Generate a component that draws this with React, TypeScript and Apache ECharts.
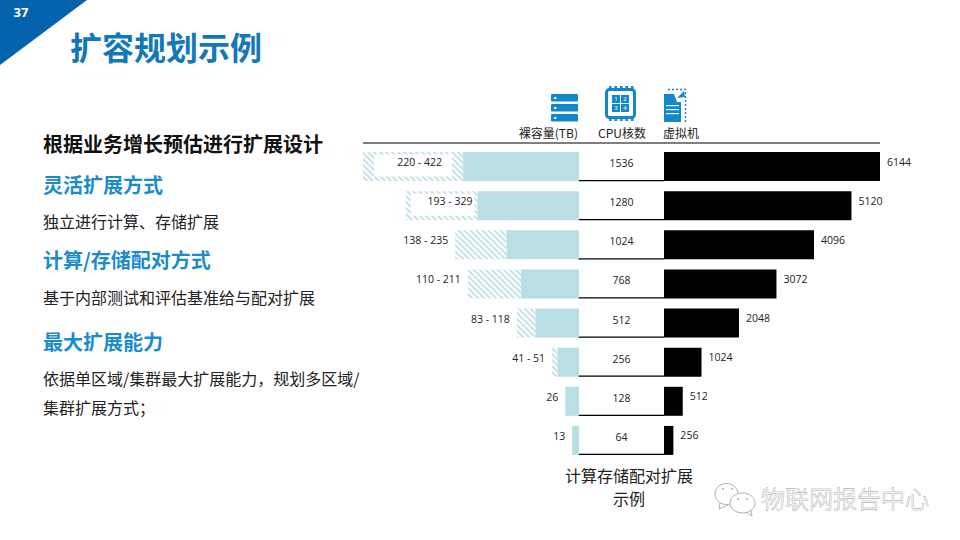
import React, { useEffect, useRef } from "react";
import * as echarts from "echarts";

const cpuCores = [1536, 1280, 1024, 768, 512, 256, 128, 64];
const storageLow = [220, 193, 138, 110, 83, 41, 26, 13];
const storageHigh = [422, 329, 235, 211, 118, 51, 26, 13];
const vmCounts = [6144, 5120, 4096, 3072, 2048, 1024, 512, 256];
const columnHeads = ["裸容量(TB)", "CPU核数", "虚拟机"];
const pageNumber = "37";
const pageTitle = "扩容规划示例";
const caption = "计算存储配对扩展\n示例";
const watermark = "物联网报告中心";
const leftTexts = [
  { t: "根据业务增长预估进行扩展设计", y: 143, kind: "head" },
  { t: "灵活扩展方式", y: 184, kind: "sub" },
  { t: "独立进行计算、存储扩展", y: 221, kind: "body" },
  { t: "计算/存储配对方式", y: 259, kind: "sub" },
  { t: "基于内部测试和评估基准给与配对扩展", y: 297, kind: "body" },
  { t: "最大扩展能力", y: 341, kind: "sub" },
  { t: "依据单区域/集群最大扩展能力，规划多区域/", y: 378, kind: "body" },
  { t: "集群扩展方式；", y: 407, kind: "body" },
];

const CJK = '"Noto Sans CJK SC"';
const NUM = '"Open Sans", "Noto Sans"';
const BLUE = "#1288C8";
const TEAL = "#B9DEE3";
const GRID_TOP = 147;
const GRID_H = 313;

function hatch(): HTMLCanvasElement {
  const c = document.createElement("canvas");
  c.width = 6;
  c.height = 6;
  const g = c.getContext("2d")!;
  g.fillStyle = "#fff";
  g.fillRect(0, 0, 6, 6);
  g.strokeStyle = "#C6E3E7";
  g.lineWidth = 2;
  for (const o of [-6, 0, 6]) {
    g.beginPath();
    g.moveTo(o - 1, -1);
    g.lineTo(o + 7, 7);
    g.stroke();
  }
  return c;
}

function txt(text: string, x: number, y: number, font: string, fill: string, align = "left") {
  return { type: "text", x, y, silent: true, style: { text, x: 0, y: 0, font, fill, align, verticalAlign: "middle" } };
}
function box(x: number, y: number, width: number, height: number, fill = BLUE, r = 0) {
  return { type: "rect", silent: true, shape: { x, y, width, height, r }, style: { fill } };
}

function icons() {
  const out: any[] = [];
  // storage
  for (const y of [94, 104, 114]) {
    out.push(box(551, y, 27, 7.5, BLUE, 1));
    out.push(box(554, y + 3, 2.5, 2, "#fff"));
  }
  // cpu
  out.push({ type: "rect", silent: true, shape: { x: 606.5, y: 89.5, width: 28, height: 28, r: 3 }, style: { fill: "#fff", stroke: BLUE, lineWidth: 3 } });
  for (let i = 0; i < 5; i++) {
    const p = 609 + i * 5.5;
    out.push(box(p, 86, 2.5, 3));
    out.push(box(p, 118, 2.5, 3));
    out.push(box(603, p - 0, 3, 2.5));
    out.push(box(635, p - 0, 3, 2.5));
  }
  ["1", "2", "3", "4"].forEach((d, i) => {
    const x = 612 + (i % 2) * 9;
    const y = 95 + Math.floor(i / 2) * 9;
    out.push(box(x, y, 8, 8));
    out.push(txt(d, x + 4, y + 4, `6px ${NUM}`, "#fff", "center"));
  });
  // virtual machine document
  out.push(box(664, 94, 17, 28));
  out.push({ type: "polygon", silent: true, shape: { points: [[674, 94], [682, 94], [682, 102], [677, 102]] }, style: { fill: "#fff" } });
  out.push({ type: "polygon", silent: true, shape: { points: [[677, 98], [684, 91], [685, 97]] }, style: { fill: BLUE } });
  for (const y of [105, 109, 113]) out.push(box(666, y, 13, 1.2, "#fff"));
  out.push({ type: "polyline", silent: true, shape: { points: [[668, 89.5], [685.5, 89.5], [685.5, 122]] }, style: { fill: "none", stroke: BLUE, lineWidth: 1.4, lineDash: [2, 2] } });
  return out;
}

function wechat() {
  const stroke = "#A8A8A8";
  const s = { fill: "#fff", stroke, lineWidth: 0.9 };
  return [
    { type: "ellipse", silent: true, shape: { cx: 726.5, cy: 494, rx: 11.5, ry: 10.5 }, style: s },
    { type: "polyline", silent: true, shape: { points: [[720, 503], [719, 509], [728, 505]] }, style: { fill: "none", stroke, lineWidth: 0.9 } },
    { type: "ellipse", silent: true, shape: { cx: 742.5, cy: 503, rx: 12.5, ry: 10 }, style: s },
    { type: "polyline", silent: true, shape: { points: [[747, 512.5], [752, 516], [751, 510]] }, style: { fill: "none", stroke, lineWidth: 0.9 } },
    { type: "circle", silent: true, shape: { cx: 723, cy: 489, r: 0.9 }, style: { fill: stroke } },
    { type: "circle", silent: true, shape: { cx: 732, cy: 489, r: 0.9 }, style: { fill: stroke } },
    { type: "circle", silent: true, shape: { cx: 738, cy: 499, r: 0.9 }, style: { fill: stroke } },
    { type: "circle", silent: true, shape: { cx: 747, cy: 499, r: 0.9 }, style: { fill: stroke } },
  ];
}

const leftFonts: Record<string, [string, string]> = {
  head: [`700 20px ${CJK}`, "#111"],
  sub: [`700 20px ${CJK}`, "#1A8CCB"],
  body: [`400 16px ${CJK}`, "#222"],
};

function hatchLabel(i: number) {
  const low = storageLow[i];
  const high = storageHigh[i];
  const formatter = low === high ? `${low}` : `${low} - ${high}`;
  if (i === 0) {
    return { show: true, position: "inside", verticalAlign: "top", formatter, backgroundColor: "#fff", padding: [2, 10, 9, 23], offset: [0, -12] };
  }
  if (i === 1) {
    return { show: true, position: "inside", verticalAlign: "top", formatter, backgroundColor: "#fff", padding: [2, 2, 9, 17], offset: [1, -12] };
  }
  return { show: true, position: "left", distance: 7, offset: [0, -4.5], formatter };
}

export default function App() {
  const ref = useRef<HTMLDivElement>(null);
  useEffect(() => {
    const chart = echarts.init(ref.current!, undefined, { renderer: "svg" });
    const yBase = { type: "category", data: cpuCores.map(String), inverse: true, show: false };
    chart.setOption({
      animation: false,
      backgroundColor: "#fff",
      textStyle: { fontFamily: NUM },
      grid: [
        { left: 363, width: 216, top: GRID_TOP, height: GRID_H },
        { left: 579, width: 85, top: GRID_TOP, height: GRID_H },
        { left: 664, width: 216, top: GRID_TOP, height: GRID_H },
      ],
      xAxis: [
        { gridIndex: 0, type: "value", min: 0, max: 410, inverse: true, show: false },
        { gridIndex: 1, type: "value", min: 0, max: 1, show: false },
        { gridIndex: 2, type: "value", min: 0, max: 5900, show: false },
      ],
      yAxis: [
        { ...yBase, gridIndex: 0 },
        { ...yBase, gridIndex: 1 },
        { ...yBase, gridIndex: 2 },
      ],
      series: [
        {
          type: "bar",
          xAxisIndex: 0,
          yAxisIndex: 0,
          stack: "storage",
          barWidth: 29,
          data: storageLow,
          itemStyle: { color: TEAL },
        },
        {
          type: "bar",
          xAxisIndex: 0,
          yAxisIndex: 0,
          stack: "storage",
          barWidth: 29,
          z: 3,
          itemStyle: { color: { image: hatch(), repeat: "repeat" } },
          label: { color: "#222", fontSize: 10.5, fontFamily: NUM },
          data: storageHigh.map((h, i) => ({ value: h - storageLow[i], label: hatchLabel(i) })),
        },
        {
          type: "custom",
          xAxisIndex: 1,
          yAxisIndex: 1,
          encode: { x: 0, y: 1 },
          data: cpuCores.map((c, i) => [0.5, i, c]),
          renderItem: (params: any, api: any) => {
            const p = api.coord([api.value(0), api.value(1)]);
            const sys = params.coordSys;
            const yLine = p[1] + 14;
            return {
              type: "group",
              children: [
                {
                  type: "line",
                  shape: { x1: sys.x - 1, y1: yLine, x2: sys.x + sys.width, y2: yLine },
                  style: { stroke: "#000", lineWidth: 1.2 },
                },
                {
                  type: "text",
                  x: p[0],
                  y: p[1] - 3.5,
                  style: { text: String(api.value(2)), x: 0, y: 0, align: "center", verticalAlign: "middle", fill: "#222", font: `10.5px ${NUM}` },
                },
              ],
            };
          },
        },
        {
          type: "bar",
          xAxisIndex: 2,
          yAxisIndex: 2,
          barWidth: 29,
          data: vmCounts,
          itemStyle: { color: "#000" },
          label: { show: true, position: "right", distance: 7, offset: [0, -5], color: "#222", fontSize: 10.5, fontFamily: NUM },
        },
      ],
      graphic: [
        { type: "polygon", silent: true, shape: { points: [[0, 0], [87, 0], [0, 65]] }, style: { fill: "#0563AE" } },
        txt(pageNumber, 21, 12, `700 13px ${NUM}`, "#fff", "center"),
        txt(pageTitle, 70, 46, `700 32px ${CJK}`, "#1278B8"),
        ...leftTexts.map((l) => txt(l.t, 43, l.y, leftFonts[l.kind][0], leftFonts[l.kind][1])),
        { type: "line", silent: true, shape: { x1: 363, y1: 143, x2: 880, y2: 143 }, style: { stroke: "#000", lineWidth: 1.2 } },
        txt(columnHeads[0], 578, 132, `12px ${CJK}`, "#222", "right"),
        txt(columnHeads[1], 622, 132, `12px ${CJK}`, "#222", "center"),
        txt(columnHeads[2], 681, 132, `12px ${CJK}`, "#222", "center"),
        ...icons(),
        ...caption.split("\n").map((c, i) => txt(c, 629, 475 + i * 23, `16px ${CJK}`, "#222", "center")),
        ...wechat(),
        {
          type: "text",
          x: 761,
          y: 497,
          silent: true,
          style: { text: watermark, x: 0, y: 0, font: `300 24px ${CJK}`, fill: "#F4F4F4", stroke: "#8C8C8C", lineWidth: 0.6, align: "left", verticalAlign: "middle" },
        },
      ],
    } as any);
    return () => chart.dispose();
  }, []);
  return <div ref={ref} style={{ position: "absolute", left: 0, top: 0, width: 960, height: 540 }} />;
}
